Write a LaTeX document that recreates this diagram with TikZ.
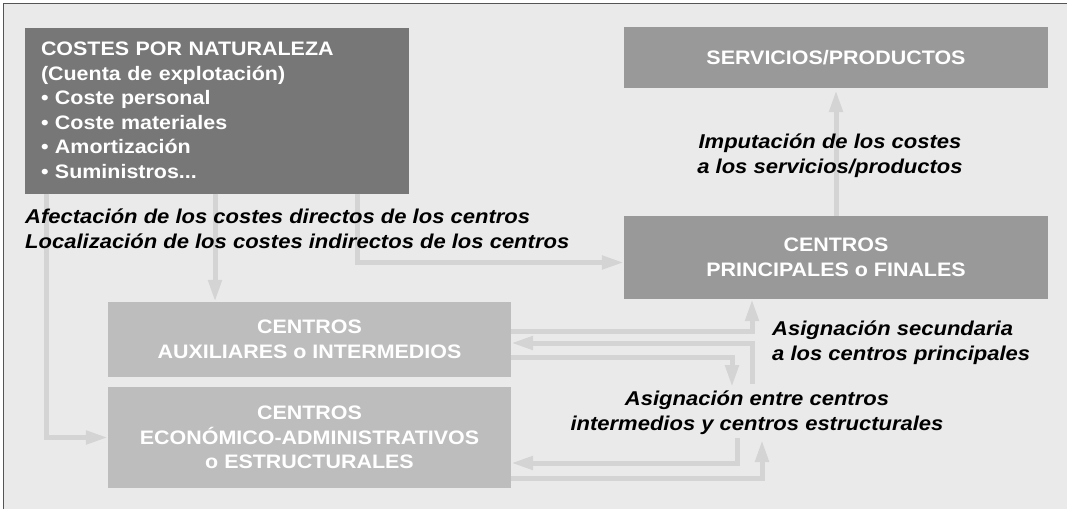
\documentclass[tikz,border=0pt]{standalone}
\usepackage{fontspec}
\setmainfont{Liberation Sans}[FakeStretch=1.1]
\usetikzlibrary{arrows.meta}
\definecolor{bgc}{HTML}{EAEAEA}
\definecolor{framec}{HTML}{555555}
\definecolor{costesc}{HTML}{777777}
\definecolor{princc}{HTML}{999999}
\definecolor{auxc}{HTML}{BDBDBD}
\definecolor{connc}{HTML}{D4D4D4}
\begin{document}
\begin{tikzpicture}[x=1pt,y=-1pt,
  box/.style={draw=none,inner sep=0pt,text=white,align=center,
    font=\fontsize{19.5}{24.5}\selectfont\bfseries},
  conn/.style={draw=connc,line width=5pt},
  tip/.style={-{Triangle[length=22pt,width=13pt]}},
  lab/.style={inner sep=0pt,text=black,
    font=\fontsize{20}{25}\selectfont\bfseries\itshape}]
\useasboundingbox (0,0) rectangle (1067,509);
\fill[bgc] (3,3) rectangle (1067,509);
\draw[framec,line width=1pt] (3,509) -- (3,3) -- (1067,3);

% boxes
\node[box,fill=costesc,minimum width=384pt,minimum height=166pt,
  text width=352pt,align=left] (costes) at (217,110.5)
  {COSTES POR NATURALEZA\\(Cuenta de explotación)\\• Coste personal\\• Coste materiales\\• Amortización\\• Suministros...};
\node[box,fill=princc,minimum width=424pt,minimum height=61pt] (serv) at (836,57.5)
  {SERVICIOS/PRODUCTOS};
\node[box,fill=princc,minimum width=424pt,minimum height=83pt] (princ) at (836,257.5)
  {CENTROS\\PRINCIPALES o FINALES};
\node[box,fill=auxc,minimum width=403pt,minimum height=75pt] (aux) at (309.5,339.5)
  {CENTROS\\AUXILIARES o INTERMEDIOS};
\node[box,fill=auxc,minimum width=403pt,minimum height=101pt] (econ) at (309.5,437.5)
  {CENTROS\\ECONÓMICO-ADMINISTRATIVOS\\o ESTRUCTURALES};

% helper coordinates
\coordinate (xA) at (46,0);
\coordinate (xB) at (215,0);
\coordinate (xC) at (357,0);
\coordinate (xD) at (752,0);
\coordinate (s2) at (752,384);
\coordinate (e3) at (732,387);
\coordinate (s4) at (737,438);
\coordinate (e5) at (762,440);

% connectors
\draw[conn,tip] (costes.south -| xA) |- (econ.west);
\draw[conn,tip] (costes.south -| xB) -- (aux.north -| xB);
\draw[conn,tip] (costes.south -| xC) |- ([yshift=-5pt]princ.west);
\draw[conn,tip] (princ.north) -- ([yshift=-2pt]serv.south);
\draw[conn,tip] ([yshift=8.5pt]aux.east) -| (princ.south -| xD);
\draw[conn,tip] (s2) |- ([yshift=-3.5pt]aux.east);
\draw[conn,tip] ([yshift=-17.5pt]aux.east) -| (e3);
\draw[conn,tip] (s4) |- ([yshift=-25.5pt]econ.east);
\draw[conn,tip] ([yshift=-40.5pt]econ.east) -| (e5);

% labels
\node[lab,anchor=west,align=left] (l1) at (25,229)
  {Afectación de los costes directos de los centros\\Localización de los costes indirectos de los centros};
\node[lab,align=center] (l2) at (830,155.5)
  {Imputación de los costes\\a los servicios/productos};
\node[lab,anchor=west,align=left] (l3) at (772,342.5)
  {Asignación secundaria\\a los centros principales};
\node[lab,align=center] (l4) at (757,413)
  {Asignación entre centros\\intermedios y centros estructurales};
\end{tikzpicture}
\end{document}
